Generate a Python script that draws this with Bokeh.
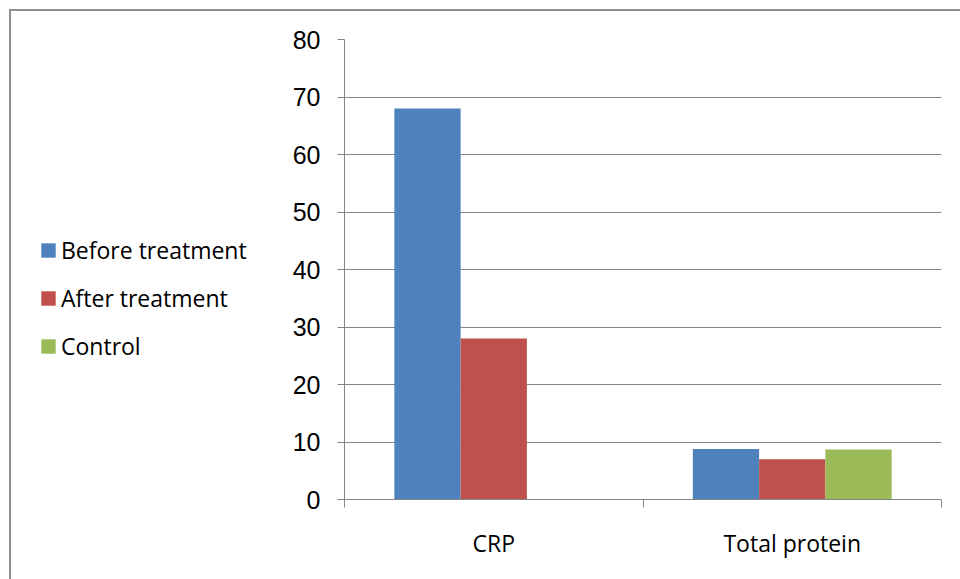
from bokeh.plotting import figure
from bokeh.layouts import row
from bokeh.models import (ColumnDataSource, FixedTicker, Legend, LegendItem, Range1d)
from bokeh.embed import file_html
from bokeh.resources import INLINE

categories = ["CRP", "Total protein"]
series_names = ["Before treatment", "After treatment", "Control"]
before = [68, 8.8]
after = [28, 7.0]
control = [0, 8.7]
colors = ["#4F81BD", "#C0504D", "#9BBB59"]
y_ticks = [0, 10, 20, 30, 40, 50, 60, 70, 80]

LEFT_W = 276
H = 568

p = figure(width=949 - LEFT_W, height=H, output_backend="svg", toolbar_location=None,
           x_range=Range1d(0, len(categories)), y_range=Range1d(0, 80),
           min_border_left=57, min_border_right=19, min_border_top=28, min_border_bottom=80)
p.outline_line_color = None
p.background_fill_color = "white"
p.border_fill_color = "white"

bar_w = 0.222
offsets = [-bar_w, 0, bar_w]
sources = []
for vals, off, col in zip([before, after, control], offsets, colors):
    src = ColumnDataSource(dict(x=[i + 0.5 + off for i in range(len(categories))], top=vals))
    p.vbar(x="x", top="top", width=bar_w, bottom=0, source=src,
           fill_color=col, line_color=None)
    sources.append(src)

# y axis
p.yaxis.ticker = FixedTicker(ticks=y_ticks)
p.yaxis.axis_line_color = "#868686"
p.yaxis.major_tick_line_color = "#868686"
p.yaxis.major_tick_out = 7
p.yaxis.major_tick_in = 0
p.yaxis.minor_tick_line_color = None
p.yaxis.major_label_text_font = "Liberation Sans"
p.yaxis.major_label_text_font_size = "25px"
p.yaxis.major_label_text_color = "black"
p.yaxis.major_label_standoff = 17

# x axis
p.xaxis.ticker = FixedTicker(ticks=[i + 0.5 for i in range(len(categories))],
                             minor_ticks=list(range(len(categories) + 1)))
p.xaxis.major_label_overrides = {i + 0.5: c for i, c in enumerate(categories)}
p.xaxis.axis_line_color = "#868686"
p.xaxis.major_tick_line_color = None
p.xaxis.major_tick_out = 8
p.xaxis.major_tick_in = 0
p.xaxis.minor_tick_line_color = "#868686"
p.xaxis.minor_tick_out = 8
p.xaxis.minor_tick_in = 0
p.xaxis.major_label_text_font = "Open Sans"
p.xaxis.major_label_text_font_size = "23px"
p.xaxis.major_label_text_color = "black"
p.xaxis.major_label_standoff = 19

p.xgrid.grid_line_color = None
p.ygrid.ticker = FixedTicker(ticks=y_ticks)
p.ygrid.grid_line_color = "#868686"

# left panel holding the legend
pl = figure(width=LEFT_W, height=H, output_backend="svg", toolbar_location=None,
            x_range=Range1d(0, 1), y_range=Range1d(0, 1),
            x_axis_location=None, y_axis_location=None,
            min_border_left=0, min_border_right=0, min_border_top=0, min_border_bottom=0)
pl.outline_line_color = None
pl.xgrid.grid_line_color = None
pl.ygrid.grid_line_color = None
pl.background_fill_color = "white"
pl.border_fill_color = "white"
legend_renderers = []
for src, col in zip(sources, colors):
    r = pl.vbar(x="x", top="top", width=bar_w, bottom=0, source=src,
                fill_color=col, line_color=None, visible=False)
    legend_renderers.append(r)

legend = Legend(items=[LegendItem(label=n, renderers=[r]) for n, r in zip(series_names, legend_renderers)],
                location=(28, 137), orientation="vertical",
                glyph_width=18, glyph_height=18, label_standoff=4,
                label_height=30, spacing=16, padding=0, margin=0,
                border_line_color=None, background_fill_alpha=0,
                label_text_font="Open Sans", label_text_font_size="23px",
                label_text_color="black")
pl.add_layout(legend, "center")

layout = row(pl, p, spacing=0)
layout.margin = (11, 0, 0, 11)
layout.styles = {"outline": "2px solid #8f8f8f"}

open("out.html", "w").write(file_html(layout, INLINE))
